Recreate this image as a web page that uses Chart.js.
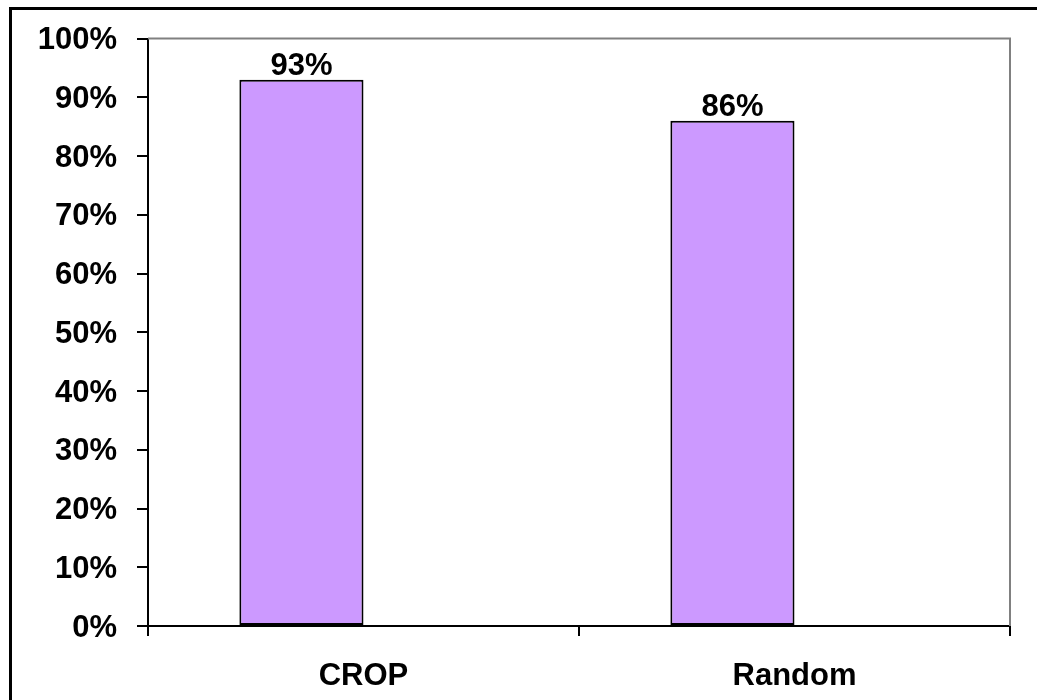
<!DOCTYPE html>
<html>
<head>
<meta charset="utf-8">
<script src="https://cdn.jsdelivr.net/npm/chart.js@4/dist/chart.umd.min.js"></script>
<style>
  html, body { margin: 0; padding: 0; background: #fff; }
  #wrap { width: 1037px; height: 700px; position: relative; }
</style>
</head>
<body>
<div id="wrap"><canvas id="c" width="1037" height="700"></canvas></div>
<script>
const categories = ['CROP', 'Random'];
const values = [93, 86];
const emptySeries = [null, null];
const yTicks = [0, 10, 20, 30, 40, 50, 60, 70, 80, 90, 100];

const FONT = 'Liberation Sans, Arial, sans-serif';
const FONT_SIZE = 31;

// Outer frame plus the grey top/right border of the plot area
const framePlugin = {
  id: 'frame',
  afterDraw(chart) {
    const ctx = chart.ctx;
    const a = chart.chartArea;
    ctx.save();
    ctx.strokeStyle = '#808080';
    ctx.lineWidth = 2;
    ctx.beginPath();
    ctx.moveTo(a.left, a.top);
    ctx.lineTo(a.right, a.top);
    ctx.lineTo(a.right, a.bottom);
    ctx.stroke();
    ctx.strokeStyle = '#000';
    ctx.lineWidth = 3;
    ctx.strokeRect(10.5, 8.5, 1100, 800);
    ctx.restore();
  }
};

// Value labels above each bar of the first series
const valueLabels = {
  id: 'valueLabels',
  afterDatasetsDraw(chart) {
    const ctx = chart.ctx;
    const meta = chart.getDatasetMeta(0);
    ctx.save();
    ctx.font = 'bold ' + FONT_SIZE + 'px ' + FONT;
    ctx.fillStyle = '#000';
    ctx.textAlign = 'center';
    ctx.textBaseline = 'alphabetic';
    meta.data.forEach((bar, i) => {
      ctx.fillText(values[i] + '%', bar.x, bar.y - 5);
    });
    ctx.restore();
  }
};

new Chart(document.getElementById('c'), {
  type: 'bar',
  data: {
    labels: categories,
    datasets: [{
      label: 'share',
      data: values,
      backgroundColor: '#CC99FF',
      borderColor: '#000',
      borderWidth: 2,
      borderSkipped: false
    }, {
      label: 'empty',
      data: emptySeries,
      backgroundColor: 'rgba(0,0,0,0)'
    }]
  },
  options: {
    responsive: false,
    animation: false,
    devicePixelRatio: 1,
    layout: { padding: { left: 0, top: 38, right: 27, bottom: 0 } },
    plugins: { legend: { display: false }, tooltip: { enabled: false } },
    datasets: { bar: { categoryPercentage: 0.576, barPercentage: 1 } },
    scales: {
      x: {
        grid: {
          display: true,
          offset: true,
          drawOnChartArea: false,
          drawTicks: true,
          tickLength: 10,
          color: '#000',
          lineWidth: 2
        },
        border: { display: true, color: '#000', width: 2 },
        ticks: {
          color: '#000',
          font: { family: FONT, size: FONT_SIZE, weight: 'bold' },
          padding: 22
        },
        afterFit(scale) { scale.height = 74; }
      },
      y: {
        min: 0,
        max: 100,
        afterBuildTicks(scale) { scale.ticks = yTicks.map(v => ({ value: v })); },
        grid: {
          display: true,
          drawOnChartArea: false,
          drawTicks: true,
          tickLength: 11,
          color: '#000',
          lineWidth: 2
        },
        border: { display: true, color: '#000', width: 2 },
        ticks: {
          color: '#000',
          font: { family: FONT, size: FONT_SIZE, weight: 'bold' },
          padding: 20,
          labelOffset: 2,
          callback: v => v + '%'
        },
        afterFit(scale) { scale.width = 148; }
      }
    }
  },
  plugins: [framePlugin, valueLabels]
});
</script>
</body>
</html>
